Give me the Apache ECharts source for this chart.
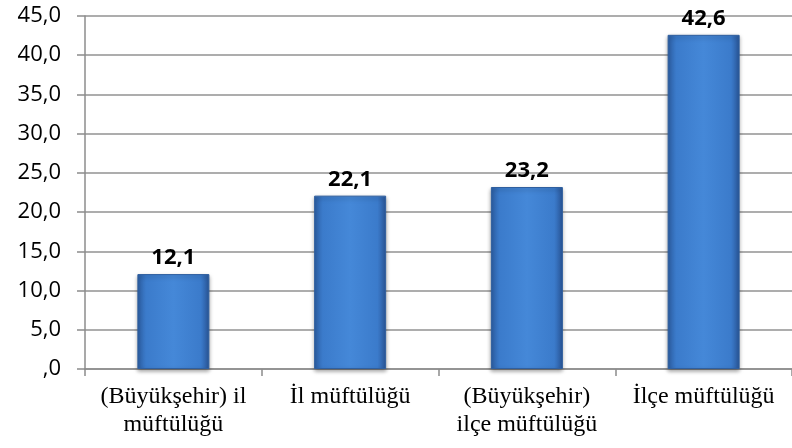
<!DOCTYPE html>
<html>
<head>
<meta charset="utf-8">
<script src="https://cdn.jsdelivr.net/npm/echarts@6/dist/echarts.min.js"></script>
<style>
  html, body { margin: 0; padding: 0; background: #fff; }
  #chart { width: 792px; height: 448px; }
</style>
</head>
<body>
<div id="chart"></div>
<script>
// kategoriler ve değerler
const categories = [
  "(Büyükşehir) il\nmüftülüğü",
  "İl müftülüğü",
  "(Büyükşehir)\nilçe müftülüğü",
  "İlçe müftülüğü"
];
const values = [12.1, 22.1, 23.2, 42.6];
const yMin = 0;
const yMax = 45;
const yStep = 5;

const fmt = (v) => {
  const s = v.toFixed(1).replace(".", ",");
  return s.startsWith("0,") ? s.slice(1) : s; // ",0" gibi
};

const chart = echarts.init(document.getElementById("chart"));
chart.setOption({
  animation: false,
  grid: { left: 85, right: -6, top: 16, bottom: 79 },
  xAxis: {
    type: "category",
    data: categories,
    axisLine: { lineStyle: { color: "#8c8c8c", width: 1.5 } },
    axisTick: { show: true, length: 7, lineStyle: { color: "#8c8c8c", width: 1.5 } },
    axisLabel: {
      color: "#000",
      fontFamily: "Liberation Serif",
      fontSize: 24,
      lineHeight: 28,
      margin: 14,
      interval: 0
    }
  },
  yAxis: {
    type: "value",
    min: yMin,
    max: yMax,
    interval: yStep,
    axisLine: { show: true, lineStyle: { color: "#8c8c8c", width: 1.5 } },
    axisTick: { show: true, inside: false, length: 8, lineStyle: { color: "#8c8c8c", width: 1.5 } },
    splitLine: { lineStyle: { color: "#929292", width: 1.5 } },
    axisLabel: {
      color: "#000",
      fontFamily: "Open Sans",
      fontSize: 22,
      margin: 24,
      formatter: fmt
    }
  },
  series: [{
    type: "bar",
    data: values,
    barWidth: 72,
    label: {
      show: true,
      position: "top",
      distance: 5,
      color: "#000",
      fontFamily: "Open Sans",
      fontWeight: "bold",
      fontSize: 22,
      formatter: (p) => fmt(p.value)
    },
    itemStyle: {
      color: new echarts.graphic.LinearGradient(0, 0, 1, 0, [
        { offset: 0, color: "#2c5ea3" },
        { offset: 0.12, color: "#3b7bcb" },
        { offset: 0.5, color: "#4588d8" },
        { offset: 0.88, color: "#3b7bcb" },
        { offset: 1, color: "#2a579a" }
      ]),
      borderColor: "#2f5f9f",
      borderWidth: 1,
      shadowColor: "rgba(0,0,0,0.35)",
      shadowBlur: 4,
      shadowOffsetY: 2
    }
  }]
});
</script>
</body>
</html>
